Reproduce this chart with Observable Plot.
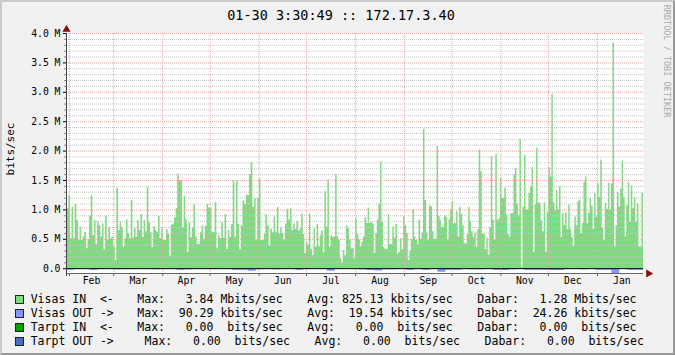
<!DOCTYPE html>
<html><head><meta charset="utf-8">
<script src="https://cdn.jsdelivr.net/npm/d3@7"></script>
<script src="https://cdn.jsdelivr.net/npm/@observablehq/plot@0.6"></script>
<style>
body{margin:0;background:#f1f1f1}
#c{position:relative;width:675px;height:355px;background:#f1f1f1;overflow:hidden;font-family:"DejaVu Sans Mono",monospace;color:#000;box-sizing:border-box}
#c svg{position:absolute;left:0;top:0}
.t{position:absolute;white-space:pre;line-height:14px;font-size:11.5px}
.sw{position:absolute;width:7px;height:7px;border:1px solid #222}
</style></head><body><div id="c"></div>
<script>
// ---- chart text ----
const title = "01-30 3:30:49 :: 172.17.3.40";
const yLabel = "bits/sec";
const watermark = "RRDTOOL / TOBI OETIKER";

// ---- time range ----
const startDate = new Date("2010-01-30T03:30:49Z");
const endDate = new Date("2011-01-30T03:30:49Z");

// Visas IN (Mbits/sec), approx. daily samples, grouped by period
const periodStarts = ["2010-01-30T14:00Z", "2010-04-13T13:00Z", "2010-06-25T22:40Z", "2010-09-07T06:00Z", "2010-11-19T15:30Z", "2011-01-30T03:30:49Z"];
const inJanApr = [1.02,1.24,0.51,1.04,0.51,1.09,0.82,0.48,0.71,0.48,0.54,0.62,0.34,0.49,0.89,1.24,0.56,0.82,0.41,0.79,0.73,0.54,0.76,0.32,0.89,0.49,0.70,0.51,0.53,0.37,0.14,1.37,0.65,0.78,0.70,0.37,0.51,0.83,0.60,0.51,1.16,0.52,0.69,0.54,0.82,0.65,0.92,0.53,0.82,0.63,1.38,0.78,0.61,0.36,0.71,0.65,0.62,0.89,0.51,0.69,0.48,0.48,0.66,0.58,0.21,0.74,0.76,0.86,1.02,1.61,1.50,1.50];
const inAprJun = [0.69,1.23,0.83,0.28,0.78,0.52,0.70,1.09,0.54,0.41,0.41,0.61,0.73,0.49,0.72,1.09,1.03,1.03,0.62,0.61,1.12,0.34,0.56,0.51,0.78,0.52,0.92,0.33,0.65,0.53,0.75,1.49,0.54,1.50,0.75,0.32,0.73,1.15,1.09,1.25,1.24,1.60,1.80,1.04,1.20,0.48,1.20,1.53,0.48,0.48,0.58,0.92,0.73,0.39,0.67,0.61,0.88,0.61,1.04,0.59,0.70,0.60,0.48,0.76,1.01,0.83,1.02,0.65,0.76,0.67,0.80];
const inJunSep = [0.64,0.68,0.93,0.58,0.26,0.45,0.40,0.93,0.32,0.22,0.68,0.37,0.75,0.37,0.56,0.64,0.27,1.31,0.71,1.51,0.37,0.56,0.53,0.54,1.60,0.54,0.48,0.17,0.10,0.31,0.22,0.73,0.68,0.49,0.34,0.34,0.17,0.85,0.58,0.49,0.37,0.45,0.54,0.87,0.77,1.03,0.77,0.79,0.76,0.26,0.60,0.83,1.10,1.82,0.79,0.36,0.33,0.33,0.92,0.41,0.41,0.71,0.52,0.75,0.24,0.28,0.51,0.32,0.89,0.73,0.60,0.14,0.30,0.49,1.00];
const inSepNov = [0.54,0.48,0.41,0.83,0.50,0.61,2.37,1.16,0.61,0.48,1.07,1.05,0.63,0.50,0.50,2.08,0.89,0.82,0.70,0.71,0.90,0.87,0.49,0.83,1.00,1.14,0.76,0.77,0.97,0.54,1.04,0.92,0.73,0.43,0.42,0.58,1.04,0.80,0.63,0.52,0.61,0.36,0.66,2.02,1.65,0.59,0.58,0.32,0.52,0.23,0.70,1.91,0.83,0.48,1.94,0.82,0.85,1.54,1.20,1.20,1.37,0.92,0.58,0.54,0.94,0.94,1.60,1.71,1.10,0.90,2.20,0.02,1.05,1.92,1.00,1.00,1.28];
const inNovJan = [1.39,1.72,0.28,1.09,2.05,1.12,1.11,0.81,0.63,1.12,0.28,0.96,1.72,1.56,2.96,1.12,0.99,1.33,1.00,1.39,0.53,0.94,0.73,0.95,0.66,1.08,0.66,0.53,0.39,0.88,0.73,1.14,1.17,0.60,0.77,1.47,1.56,0.76,0.94,1.20,1.06,0.67,1.28,0.88,1.45,1.21,1.85,0.69,0.48,1.11,1.01,1.45,0.99,1.44,3.84,0.37,0.73,1.29,1.05,1.35,1.83,1.21,0.54,1.07,1.46,0.80,1.40,1.02,1.21,0.79,1.10,0.37,0.37,1.28];

// Visas OUT (kbits/sec), 5-day samples, drawn downward
const visasOut = [25,15,10,25,15,5,20,15,15,10,15,20,10,10,25, 20,10,5,15,8,15,25,25,45,20,5,20,15,10, 25,15,10,15,45,15,5,5,20,30,40,20,20,15,25, 15,25,15,60,25,25,10,20,20,10,25,30,20,15,25, 25,25,30,30,15,15,20,15,25,25,90.29,15,25,25];

// ---- axes ----
const monthLabels = ["Feb","Mar","Apr","May","Jun","Jul","Aug","Sep","Oct","Nov","Dec","Jan"];
const yTicks = [0,0.5,1.0,1.5,2.0,2.5,3.0,3.5,4.0];
const yMinor = [0.1,0.2,0.3,0.4,0.6,0.7,0.8,0.9,1.1,1.2,1.3,1.4,1.6,1.7,1.8,1.9,2.1,2.2,2.3,2.4,2.6,2.7,2.8,2.9,3.1,3.2,3.3,3.4,3.6,3.7,3.8,3.9];

// ---- legend ----
const seriesNames = ["Visas IN  <-", "Visas OUT ->", "Tarpt IN  <-", "Tarpt OUT ->"];
const seriesColors = ["#7edc7e", "#8597ff", "#00a000", "#4a6cc8"];
const maxVals = [3.84e6, 90.29e3, 0, 0];
const avgVals = [825.13e3, 19.54e3, 0, 0];
const curVals = [1.28e6, 24.26e3, 0, 0];

// ---------- build ----------
const C = document.getElementById("c");
const inSections = [inJanApr, inAprJun, inJunSep, inSepNov, inNovJan];
const inData = [];
inSections.forEach((arr, s) => {
  const a = +new Date(periodStarts[s]), b = +new Date(periodStarts[s + 1]);
  arr.forEach((v, i) => inData.push({t: new Date(a + (b - a) * i / arr.length), v}));
});
inData.push({t: new Date(periodStarts[5]), v: inNovJan[inNovJan.length - 1]});
const outStep = (endDate - startDate) / visasOut.length;
const outData = visasOut.map((v, i) => ({t: new Date(+startDate + i * outStep), v: -v / 1000}));
outData.push({t: endDate, v: -visasOut[visasOut.length - 1] / 1000});

const monthStarts = d3.utcMonth.range(startDate, endDate);
const monthMids = monthStarts.map(m => new Date((+m + +d3.utcMonth.offset(m, 1)) / 2));
const yMin = -0.082;

const chart = Plot.plot({
  width: 675, height: 355,
  marginLeft: 66, marginRight: 32, marginTop: 33, marginBottom: 82,
  x: {type: "utc", domain: [startDate, endDate]},
  y: {domain: [yMin, 4.0]},
  style: {background: "transparent", fontFamily: "'DejaVu Sans Mono', monospace", fontSize: "9.75px", color: "#000"},
  marks: [
    Plot.frame({fill: "#ffffff", stroke: null}),
    Plot.areaY(inData, {x: "t", y: "v", curve: "step-after", fill: seriesColors[0]}),
    Plot.areaY(outData, {x: "t", y: "v", curve: "step-after", fill: seriesColors[1]}),
    Plot.ruleY(yMinor, {stroke: "#c4c4c4", strokeDasharray: "1,1"}),
    Plot.ruleY(yTicks.filter(d => d > 0), {stroke: "#e4a6a6", strokeDasharray: "1,1"}),
    Plot.ruleX(monthStarts, {y1: 4.0, y2: yMin, stroke: "#e4a6a6", strokeDasharray: "1,1"}),
    Plot.ruleY([0], {stroke: "#000", strokeWidth: 1}),
    Plot.ruleY([yMin], {stroke: "#666"}),
    Plot.ruleX([startDate], {y1: yMin - 0.05, y2: 4.0, stroke: "#444"}),
    Plot.dot([{t: startDate, v: 4.0}], {x: "t", y: "v", symbol: "triangle", r: 3, fill: "#801010", stroke: null, dy: -4}),
    Plot.dot([{t: endDate, v: yMin}], {x: "t", y: "v", symbol: "triangle", r: 3, fill: "#801010", stroke: null, rotate: 90, dx: 5}),
    Plot.axisY(yTicks, {tickSize: 3, tickPadding: 3, tickFormat: d => d === 0 ? "0.0" : d.toFixed(1) + " M", label: null}),
    Plot.axisY(yMinor, {tickSize: 2, tickFormat: () => "", label: null, stroke: "#888"}),
    Plot.axisX(monthStarts, {tickSize: 3, tickFormat: () => "", label: null, stroke: "#666"}),
    Plot.axisX(monthMids, {tickSize: 0, tickPadding: 4, label: null,
      tickFormat: d => monthLabels[monthMids.findIndex(m => +m === +d)]})
  ]
});
C.appendChild(chart);

function addText(txt, x, y, size, extra) {
  const d = document.createElement("div");
  d.className = "t";
  d.textContent = txt;
  d.style.left = x + "px";
  d.style.top = y + "px";
  if (size) d.style.fontSize = size + "px";
  if (extra) Object.assign(d.style, extra);
  C.appendChild(d);
  return d;
}
// title
addText(title, 0, 6, 13.5, {width: "682px", textAlign: "center", lineHeight: "18px"});
// y label
addText(yLabel, 10.7, 148.5, 11, {transform: "translate(-50%,-50%) rotate(-90deg)"});
// watermark
addText(watermark, 667, 61, 8.5, {transform: "translate(-50%,-50%) rotate(90deg)", color: "#a9a9a9"});

// legend
function fmt(v) {
  let p = " ", x = v;
  if (v >= 1e6) { p = "M"; x = v / 1e6; } else if (v >= 1e3) { p = "k"; x = v / 1e3; }
  return x.toFixed(2).padStart(7) + " " + p + "bits/sec";
}
const rowY = [299.3, 313.3, 327.3, 341.3];
seriesNames.forEach((name, i) => {
  const cy = rowY[i];
  const sw = document.createElement("div");
  sw.className = "sw";
  sw.style.left = "15px"; sw.style.top = (cy - 4.5) + "px";
  sw.style.background = seriesColors[i];
  C.appendChild(sw);
  const shift = i === 3 ? 7.3 : 0;
  addText(name, 30.7, cy - 7.5);
  addText("Max:" + fmt(maxVals[i]), 137.3 + shift, cy - 7.5);
  addText("Avg:" + fmt(avgVals[i]), 307.3 + shift, cy - 7.5);
  addText("Dabar:" + fmt(curVals[i]), 477.3 + shift, cy - 7.5);
});
// frame shading
const fr = document.createElement("div");
Object.assign(fr.style, {position: "absolute", left: 0, top: 0, width: "675px", height: "355px", boxSizing: "border-box",
  borderTop: "2px solid #cbcbcb", borderLeft: "2px solid #cbcbcb", borderRight: "2px solid #999", borderBottom: "2px solid #999", pointerEvents: "none"});
C.appendChild(fr);
</script></body></html>
